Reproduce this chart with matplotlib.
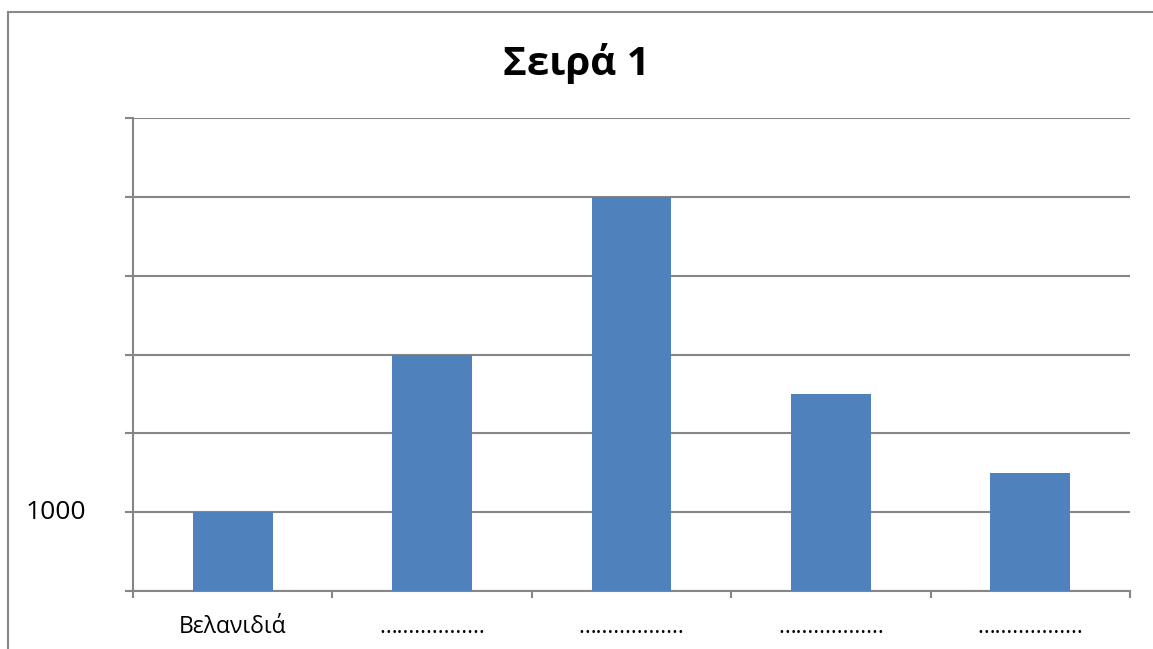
import matplotlib.pyplot as plt
import numpy as np
from matplotlib.lines import Line2D

plt.rcParams['font.family'] = ['Open Sans', 'DejaVu Sans']

# data
categories = ['Βελανιδιά', '………………', '………………', '………………', '………………']
values = [1000, 3000, 5000, 2500, 1500]
y_ticks = [0, 1000, 2000, 3000, 4000, 5000, 6000]
y_labels = ['', '1000', '', '', '', '', '']

grid_col = '#868686'
bar_col = '#4F81BD'

fig = plt.figure(figsize=(11.53, 6.49), dpi=100)
ax = fig.add_axes([133 / 1153, 1 - 591 / 649, (1130 - 133) / 1153, (591 - 118) / 649])

x = np.arange(len(categories))
ax.bar(x, values, width=0.4, color=bar_col, zorder=3)

ax.set_xlim(-0.5, len(categories) - 0.5)
ax.set_ylim(0, 6000)

# y axis
ax.set_yticks(y_ticks)
ax.set_yticklabels(y_labels, fontsize=19)
ax.yaxis.grid(True, color=grid_col, linewidth=1.5)
ax.tick_params(axis='y', length=6, width=1.5, color=grid_col, pad=28)
for lbl in ax.get_yticklabels():
    lbl.set_verticalalignment('center')

# x axis: ticks on boundaries, labels at centres
ax.set_xticks(np.arange(len(categories) + 1) - 0.5)
ax.set_xticklabels([])
ax.tick_params(axis='x', which='major', length=5, width=1.5, color=grid_col)
ax.set_xticks(x, minor=True)
ax.set_xticklabels(categories, minor=True, fontsize=16.5)
ax.tick_params(axis='x', which='minor', length=0, pad=17)

for s in ['top', 'right']:
    ax.spines[s].set_visible(False)
for s in ['left', 'bottom']:
    ax.spines[s].set_color(grid_col)
    ax.spines[s].set_linewidth(1.5)

fig.text(0.5, 1 - 63 / 649, 'Σειρά 1', ha='center', va='center',
         fontsize=29, fontweight='bold')

# outer chart border
fig.add_artist(Line2D([7.5 / 1153, 7.5 / 1153], [0, 1 - 11.5 / 649],
                      transform=fig.transFigure, color='#888888', linewidth=1.5))
fig.add_artist(Line2D([7.5 / 1153, 1], [1 - 11.5 / 649, 1 - 11.5 / 649],
                      transform=fig.transFigure, color='#888888', linewidth=1.5))

fig.savefig('out.png', dpi=100)
